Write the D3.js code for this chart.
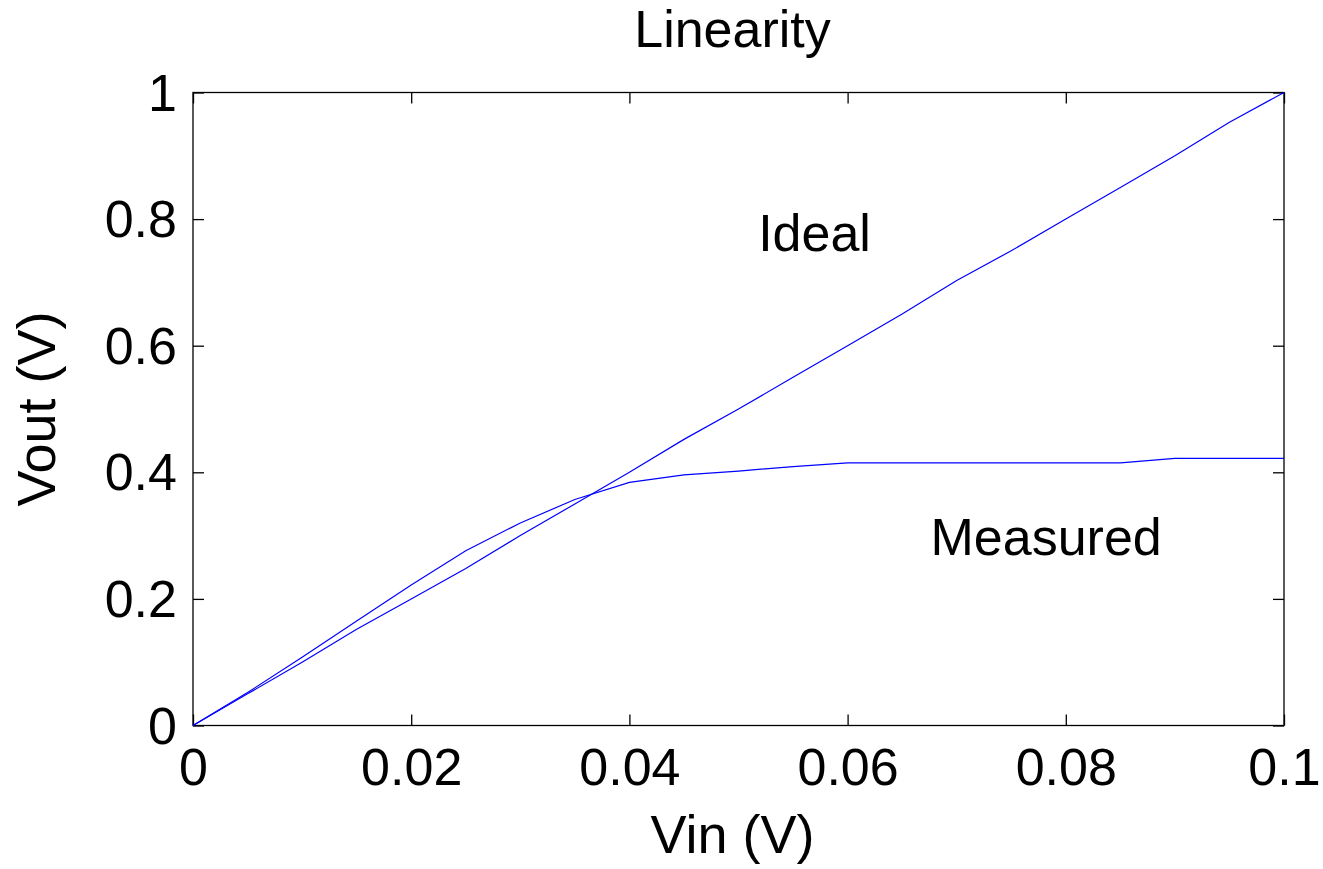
<!DOCTYPE html>
<html>
<head>
<meta charset="utf-8">
<script src="https://cdn.jsdelivr.net/npm/d3@7"></script>
<style>
  html, body { margin: 0; padding: 0; background: #fff; }
  svg text { font-family: Arial, "Liberation Sans", Helvetica, sans-serif; fill: #000; }
</style>
</head>
<body>
<svg id="chart" width="1323" height="869"></svg>
<script>
// ---- data ----
const vin = [0, 0.005, 0.01, 0.015, 0.02, 0.025, 0.03, 0.035, 0.04, 0.045, 0.05,
             0.055, 0.06, 0.065, 0.07, 0.075, 0.08, 0.085, 0.09, 0.095, 0.1];
const idealVout = [0, 0.05, 0.1, 0.152, 0.2, 0.248, 0.3, 0.35, 0.4, 0.452, 0.5,
                   0.55, 0.6, 0.65, 0.703, 0.75, 0.8, 0.85, 0.9, 0.953, 1.0];
const measuredVout = [0, 0.052, 0.108, 0.165, 0.222, 0.276, 0.32, 0.357, 0.384, 0.396, 0.402,
                      0.409, 0.415, 0.415, 0.415, 0.415, 0.415, 0.415, 0.422, 0.422, 0.422];
const xTicks = [0, 0.02, 0.04, 0.06, 0.08, 0.1];
const xTickLabels = ["0", "0.02", "0.04", "0.06", "0.08", "0.1"];
const yTicks = [0, 0.2, 0.4, 0.6, 0.8, 1];
const yTickLabels = ["0", "0.2", "0.4", "0.6", "0.8", "1"];
const annotations = [
  { text: "Ideal", x: 0.0518, y: 0.749 },
  { text: "Measured", x: 0.0676, y: 0.270 }
];
const titleText = "Linearity";
const xLabelText = "Vin (V)";
const yLabelText = "Vout (V)";

// ---- layout ----
const svg = d3.select("#chart");
const L = 193, R = 1284, T = 92.5, B = 725.5;
const x = d3.scaleLinear().domain([0, 0.1]).range([L, R]);
const y = d3.scaleLinear().domain([0, 1]).range([B, T]);
const tickLen = 11;
const fontSize = 52;

// box
svg.append("rect")
  .attr("x", L).attr("y", T).attr("width", R - L).attr("height", B - T)
  .attr("fill", "none").attr("stroke", "#000").attr("stroke-width", 1.3);

// axes with inward ticks (labels on bottom/left)
const xAxis = d3.axisBottom(x).tickValues(xTicks)
  .tickFormat((d, i) => xTickLabels[i]).tickSizeInner(-tickLen).tickSizeOuter(0).tickPadding(23);
const gx = svg.append("g").attr("transform", `translate(0,${B})`).call(xAxis);
gx.select(".domain").remove();
gx.selectAll("line").attr("stroke", "#000").attr("stroke-width", 1.3);
gx.selectAll("text").style("font-size", fontSize + "px").attr("dy", "0.71em")
  .style("font-family", "Arial, 'Liberation Sans', sans-serif");

const yAxis = d3.axisLeft(y).tickValues(yTicks)
  .tickFormat((d, i) => yTickLabels[i]).tickSizeInner(-tickLen).tickSizeOuter(0).tickPadding(16);
const gy = svg.append("g").attr("transform", `translate(${L},0)`).call(yAxis);
gy.select(".domain").remove();
gy.selectAll("line").attr("stroke", "#000").attr("stroke-width", 1.3);
gy.selectAll("text").style("font-size", fontSize + "px").attr("dy", "0.34em")
  .style("font-family", "Arial, 'Liberation Sans', sans-serif");

// mirrored ticks top / right
const xTop = d3.axisTop(x).tickValues(xTicks).tickFormat("").tickSizeInner(-tickLen).tickSizeOuter(0);
const gxt = svg.append("g").attr("transform", `translate(0,${T})`).call(xTop);
gxt.select(".domain").remove();
gxt.selectAll("line").attr("stroke", "#000").attr("stroke-width", 1.3);
const yRight = d3.axisRight(y).tickValues(yTicks).tickFormat("").tickSizeInner(-tickLen).tickSizeOuter(0);
const gyr = svg.append("g").attr("transform", `translate(${R},0)`).call(yRight);
gyr.select(".domain").remove();
gyr.selectAll("line").attr("stroke", "#000").attr("stroke-width", 1.3);

// lines
const line = d3.line().x(d => x(d[0])).y(d => y(d[1]));
[idealVout, measuredVout].forEach(series => {
  svg.append("path")
    .datum(vin.map((v, i) => [v, series[i]]))
    .attr("d", line)
    .attr("fill", "none")
    .attr("stroke", "#0000ff")
    .attr("stroke-width", 1.2);
});

// annotations
annotations.forEach(a => {
  svg.append("text").attr("x", x(a.x)).attr("y", y(a.y))
    .style("font-size", fontSize + "px").text(a.text);
});

// title and axis labels
const cx = (L + R) / 2 - 6;
svg.append("text").attr("x", cx).attr("y", 46.5).attr("text-anchor", "middle")
  .style("font-size", "52px").text(titleText);
svg.append("text").attr("x", cx).attr("y", 853).attr("text-anchor", "middle")
  .style("font-size", "54px").text(xLabelText);
svg.append("text").attr("transform", `translate(55,${(T + B) / 2}) rotate(-90)`)
  .attr("text-anchor", "middle").style("font-size", "54px").text(yLabelText);
</script>
</body>
</html>
